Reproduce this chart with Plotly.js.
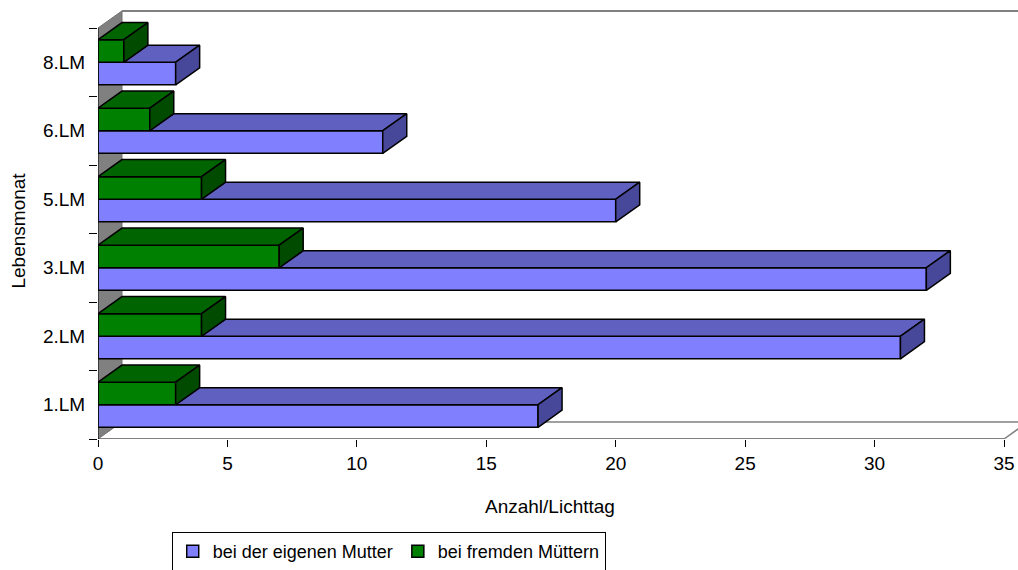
<!DOCTYPE html>
<html>
<head>
<meta charset="utf-8">
<script src="https://cdn.plot.ly/plotly-3.0.1.min.js"></script>
<style>html,body{margin:0;padding:0;background:#fff;}#chart{width:1018px;height:570px;}</style>
</head>
<body>
<div id="chart"></div>
<script>
// ---- data ----
const categories = ["1.LM", "2.LM", "3.LM", "5.LM", "6.LM", "8.LM"];
const eigeneMutter = [17, 31, 32, 20, 11, 3];
const fremdeMuetter = [3, 4, 7, 4, 2, 1];
const seriesNames = ["bei der eigenen Mutter", "bei fremden Müttern"];
const xTicks = [0, 5, 10, 15, 20, 25, 30, 35];
const xTitle = "Anzahl/Lichttag";
const yTitle = "Lebensmonat";

// ---- style / geometry (data units) ----
const BAR_H = 0.33;          // bar thickness in category units
const DX = 0.927;            // 3D depth along x (value units)
const DY = 0.25;             // 3D depth along y (category units)
const XMAX = 35.541;
const YMIN = -0.5, YMAX = 5.763;
const FONT = {family: "Liberation Sans, Arial, sans-serif", size: 19, color: "#000"};
const LEGEND_FONT = {family: "Liberation Sans, Arial, sans-serif", size: 18, color: "#000"};
const C = {
  blueFront: "#8080FF", blueTop: "#6060C0", blueSide: "#48489A",
  greenFront: "#008000", greenTop: "#006400", greenSide: "#004B00",
  wall: "#808080"
};

const pos = categories.map((c, i) => i);
const nCat = categories.length;

function polyTrace(polys, color) {
  const x = [], y = [];
  polys.forEach(p => { p.forEach(pt => { x.push(pt[0]); y.push(pt[1]); }); x.push(p[0][0]); y.push(p[0][1]); x.push(null); y.push(null); });
  return {type: "scatter", mode: "lines", x, y, fill: "toself", fillcolor: color,
          line: {color: "#000", width: 1.5}, showlegend: false, hoverinfo: "skip"};
}

const blueTop = [], blueSide = [], greenTop = [], greenSide = [];
pos.forEach((p, i) => {
  const v = eigeneMutter[i], g = fremdeMuetter[i];
  // blue bar spans [p - BAR_H, p]; green bar spans [p, p + BAR_H]
  blueTop.push([[g, p], [v, p], [v + DX, p + DY], [g + DX, p + DY]]);
  blueSide.push([[v, p - BAR_H], [v, p], [v + DX, p + DY], [v + DX, p - BAR_H + DY]]);
  greenTop.push([[0, p + BAR_H], [g, p + BAR_H], [g + DX, p + BAR_H + DY], [DX, p + BAR_H + DY]]);
  greenSide.push([[g, p], [g, p + BAR_H], [g + DX, p + BAR_H + DY], [g + DX, p + DY]]);
});

const data = [
  {type: "bar", orientation: "h", name: seriesNames[0], x: eigeneMutter, y: pos,
   offset: -BAR_H, width: BAR_H, marker: {color: C.blueFront, line: {color: "#000", width: 1.5}}, hoverinfo: "x"},
  {type: "bar", orientation: "h", name: seriesNames[1], x: fremdeMuetter, y: pos,
   offset: 0, width: BAR_H, marker: {color: C.greenFront, line: {color: "#000", width: 1.5}}, hoverinfo: "x"},
  polyTrace(blueTop, C.blueTop),
  polyTrace(blueSide, C.blueSide),
  polyTrace(greenTop, C.greenTop),
  polyTrace(greenSide, C.greenSide)
];

const lo = -0.5, hi = nCat - 0.5;
const xEnd = xTicks[xTicks.length - 1];
const shapes = [
  // left wall
  {type: "path", layer: "below", xref: "x", yref: "y",
   path: `M 0 ${lo} L 0 ${hi} L ${DX} ${hi + DY} L ${DX} ${lo + DY} Z`,
   fillcolor: C.wall, line: {color: "#707070", width: 1}},
  // back wall top edge
  {type: "line", layer: "below", xref: "x", yref: "y", x0: DX, y0: hi + DY, x1: XMAX + 1, y1: hi + DY,
   line: {color: C.wall, width: 2}},
  // floor back edge
  {type: "line", layer: "below", xref: "x", yref: "y", x0: DX, y0: lo + DY, x1: xEnd + DX, y1: lo + DY,
   line: {color: C.wall, width: 1.5}},
  // floor right edge
  {type: "line", layer: "below", xref: "x", yref: "y", x0: xEnd, y0: lo, x1: xEnd + DX, y1: lo + DY,
   line: {color: C.wall, width: 1.5}},
  // x axis line (front floor edge)
  {type: "line", layer: "above", xref: "x", yref: "y", x0: 0, y0: lo, x1: xEnd, y1: lo,
   line: {color: "#000", width: 1}},
  // y axis line
  {type: "line", layer: "above", xref: "x", yref: "y", x0: 0, y0: lo, x1: 0, y1: hi,
   line: {color: "#000", width: 1}}
];

const boundaries = [];
for (let i = 0; i <= nCat; i++) boundaries.push(i - 0.5);

const layout = {
  width: 1018, height: 570,
  margin: {l: 98, r: 0, t: 10, b: 131, pad: 0, autoexpand: false},
  paper_bgcolor: "#fff", plot_bgcolor: "#fff",
  font: FONT,
  barmode: "overlay",
  showlegend: true,
  xaxis: {range: [0, XMAX], tickvals: xTicks, ticktext: xTicks.map(String), ticks: "outside", ticklen: 7,
          tickcolor: "#000", tickwidth: 1, showgrid: false, zeroline: false, showline: false,
          tickfont: FONT, fixedrange: true, automargin: false},
  yaxis: {range: [YMIN, YMAX], tickvals: pos, ticktext: categories, ticks: "outside", ticklen: 8,
          tickcolor: "rgba(0,0,0,0)", showgrid: false, zeroline: false, showline: false, tickfont: FONT,
          minor: {tickvals: boundaries, ticks: "outside", ticklen: 8, tickcolor: "#000", tickwidth: 1, showgrid: false},
          fixedrange: true, automargin: false},
  legend: {orientation: "h", x: 0.316, xanchor: "center", y: -0.217, yanchor: "top",
           bgcolor: "#fff", bordercolor: "#000", borderwidth: 1, font: LEGEND_FONT, traceorder: "normal",
           itemwidth: 30, tracegroupgap: 0},
  annotations: [
    {text: xTitle, xref: "paper", yref: "paper", x: 0.4913, y: -0.1585, xanchor: "center", yanchor: "middle",
     showarrow: false, font: FONT},
    {text: yTitle, xref: "paper", yref: "paper", x: -0.0864, y: 0.4848, xanchor: "center", yanchor: "middle",
     textangle: -90, showarrow: false, font: FONT}
  ],
  shapes: shapes
};

Plotly.newPlot("chart", data, layout, {displayModeBar: false, staticPlot: true});
</script>
</body>
</html>
